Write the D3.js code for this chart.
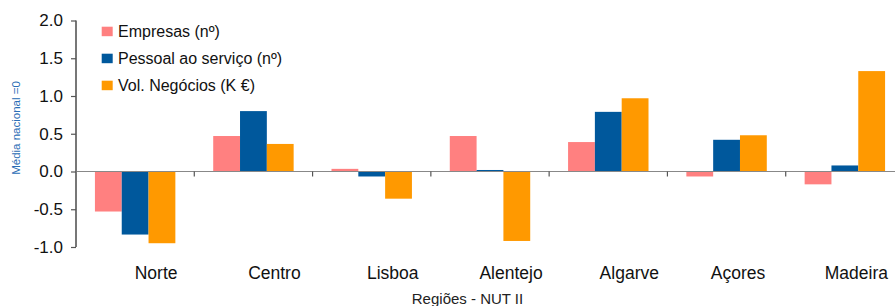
<!DOCTYPE html>
<html><head><meta charset="utf-8">
<script src="https://cdn.jsdelivr.net/npm/d3@7"></script>
<style>body{margin:0;background:#fff}svg{display:block;font-family:"Liberation Sans",Arial,sans-serif}</style>
</head><body><svg id="c" width="895" height="306"></svg>
<script>
const categories = ["Norte","Centro","Lisboa","Alentejo","Algarve","Açores","Madeira"];
const seriesNames = ["Empresas (nº)","Pessoal ao serviço (nº)","Vol. Negócios (K €)"];
const empresas = [-0.53, 0.47, 0.035, 0.47, 0.39, -0.066, -0.17];
const pessoal = [-0.835, 0.80, -0.066, 0.02, 0.79, 0.42, 0.08];
const negocios = [-0.95, 0.365, -0.36, -0.92, 0.97, 0.48, 1.33];
const colors = ["#FF8080","#00589C","#FF9900"];
const yTicks = [-1.0,-0.5,0.0,0.5,1.0,1.5,2.0];

const series = [empresas, pessoal, negocios];
const svg = d3.select("#c");
const x0 = d3.scaleBand().domain(categories).range([76, 904]).paddingInner(0).paddingOuter(0);
const inner = 0.16;
const x1 = d3.scaleBand().domain([0,1,2]).range([x0.bandwidth()*inner, x0.bandwidth()*(1-inner)]);
const y = d3.scaleLinear().domain([-1, 2]).range([247, 20.5]);

// bars
series.forEach((vals, si) => {
  svg.append("g").selectAll("rect").data(vals).join("rect")
    .attr("x", (d,i) => x0(categories[i]) + x1(si))
    .attr("width", x1.bandwidth())
    .attr("y", d => y(Math.max(0,d)))
    .attr("height", d => Math.abs(y(d)-y(0)))
    .attr("fill", colors[si]);
});

// zero line with category ticks
const xAxis = svg.append("g").attr("transform", `translate(0,${y(0)})`);
xAxis.append("line").attr("x1",76).attr("x2",895).attr("stroke","#888").attr("stroke-width",1.2);
xAxis.selectAll("line.t").data(categories.slice(1)).join("line").attr("class","t")
  .attr("x1", d => x0(d)).attr("x2", d => x0(d)).attr("y1",0).attr("y2",5)
  .attr("stroke","#555").attr("stroke-width",1.2);

// category labels (label layout shifts, as in the reference)
const labelShift = i => (i < 5 ? 21 : 11.5);
svg.append("g").selectAll("text").data(categories).join("text")
  .attr("x", (d,i) => x0(d) + x0.bandwidth()/2 + labelShift(i))
  .attr("y", 278.5)
  .attr("text-anchor","middle").attr("font-size",17.5).attr("fill","#111")
  .text(d => d);

// y axis
const yAxis = d3.axisLeft(y).tickValues(yTicks).tickFormat(d3.format(".1f")).tickSize(5).tickPadding(8);
const ya = svg.append("g").attr("transform","translate(76,0)").call(yAxis);
ya.select(".domain").attr("stroke","#777").attr("stroke-width",2).attr("d", `M0,${y(2)}V${y(-1)}`);
ya.selectAll(".tick line").attr("stroke","#555").attr("stroke-width",1.2);
ya.selectAll(".tick text").attr("font-size",17).attr("fill","#111").attr("font-family","Liberation Sans, Arial, sans-serif").text(d => d3.format(".1f")(d).replace("−","-"));

// axis titles
svg.append("text").attr("transform","translate(20,128) rotate(-90)")
  .attr("text-anchor","middle").attr("font-size",11.5).attr("fill","#2A6DB5")
  .text("Média nacional =0");
svg.append("text").attr("x",467.5).attr("y",304).attr("text-anchor","middle")
  .attr("font-size",15).attr("fill","#222").text("Regiões - NUT II");

// legend
const lg = svg.append("g");
seriesNames.forEach((n,i) => {
  const yy = 26.7 + i*27;
  lg.append("rect").attr("x",101.7).attr("y",yy).attr("width",11).attr("height",9.5).attr("fill",colors[i]);
  lg.append("text").attr("x",118).attr("y",yy+10).attr("font-size",16).attr("fill","#111").text(n);
});
</script></body></html>
